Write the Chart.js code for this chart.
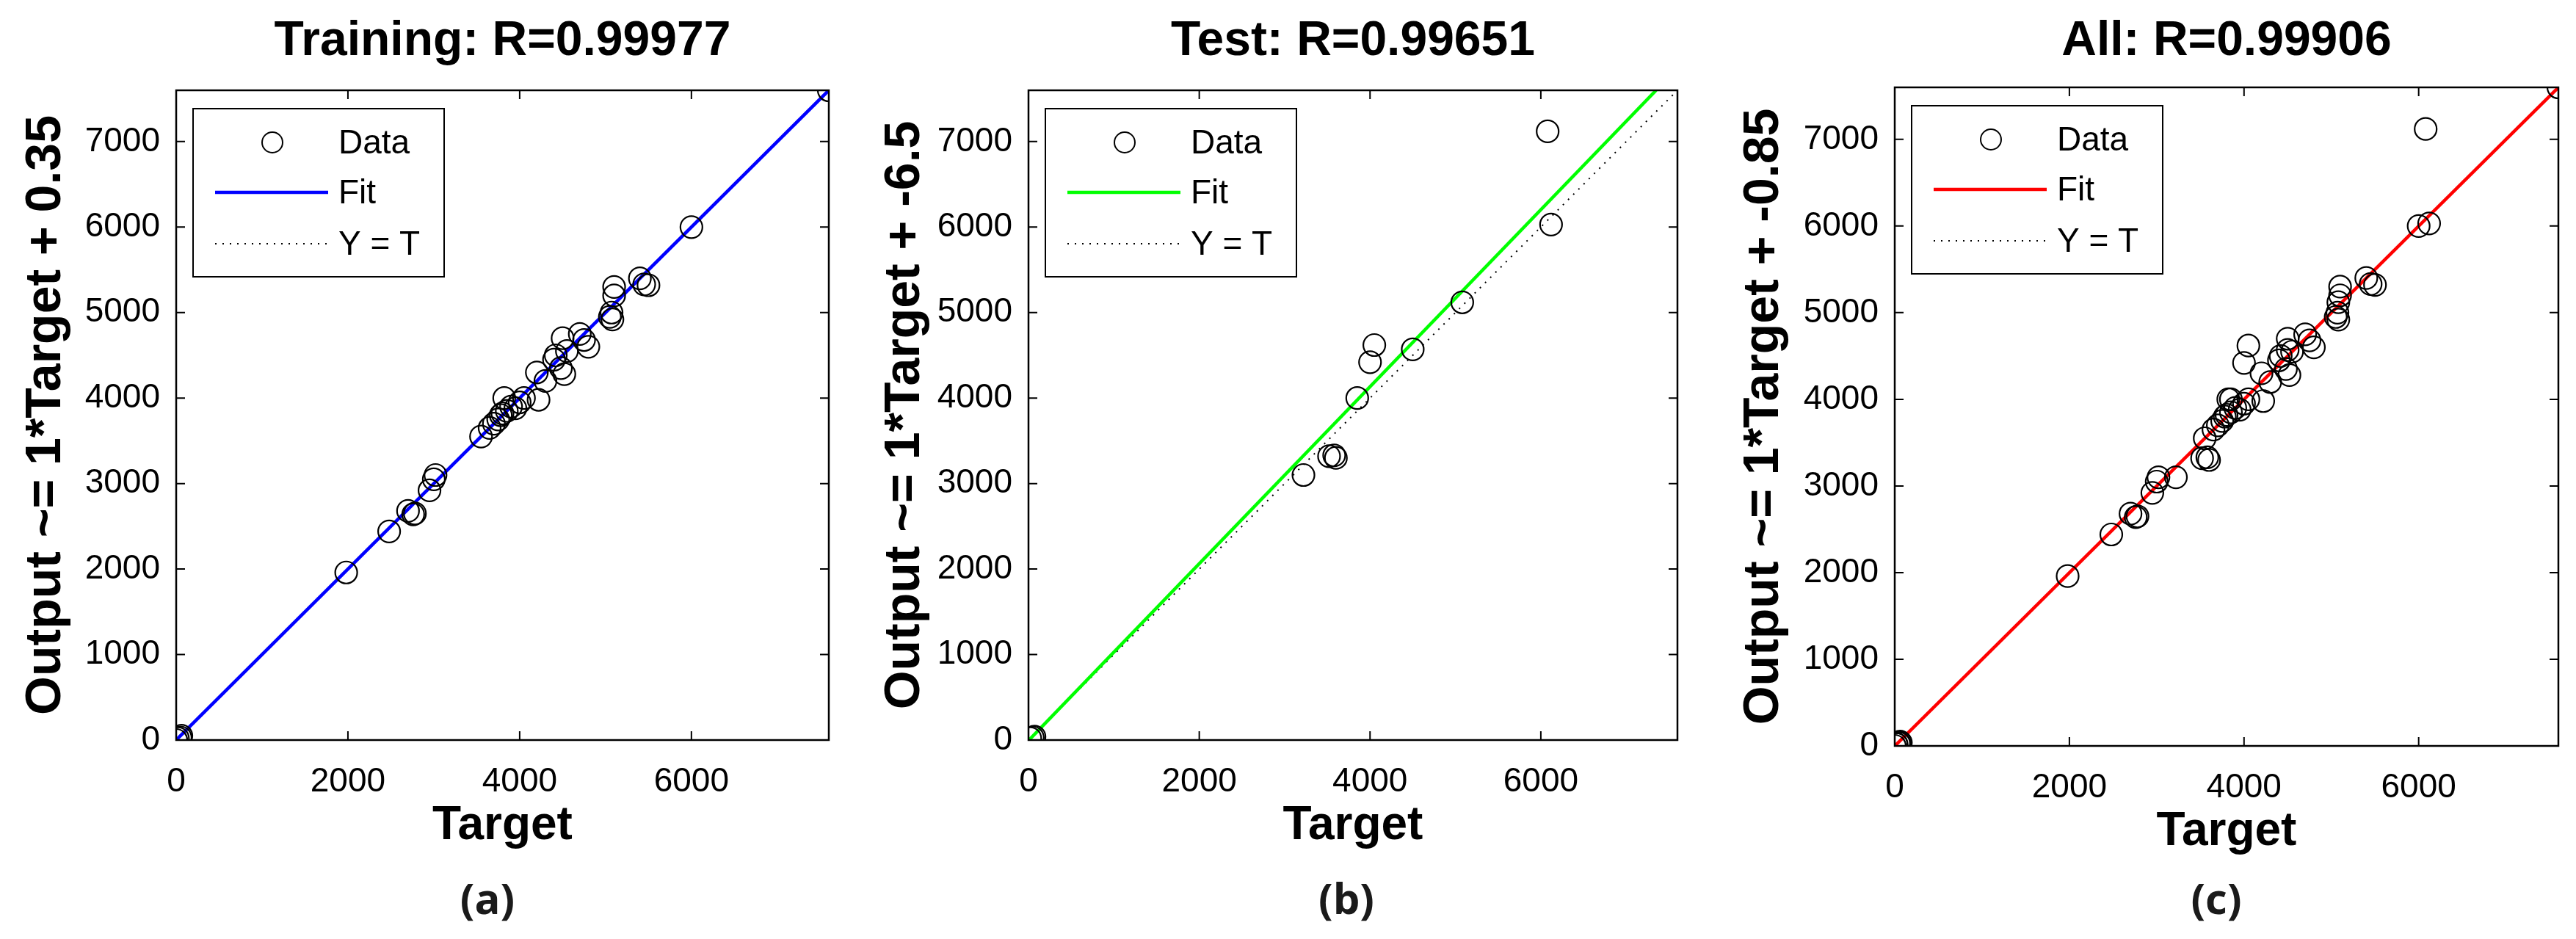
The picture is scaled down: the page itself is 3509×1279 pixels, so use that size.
<!DOCTYPE html>
<html>
<head>
<meta charset="utf-8">
<script src="https://cdn.jsdelivr.net/npm/chart.js@4"></script>
<style>
  body { margin: 0; background: #fff; }
  #wrap { position: relative; width: 3509px; height: 1279px; }
  canvas { position: absolute; top: 0; }
</style>
</head>
<body>
<div id="wrap">
  <canvas id="c0" width="1170" height="1279" style="left:0px"></canvas>
  <canvas id="c1" width="1170" height="1279" style="left:1170px"></canvas>
  <canvas id="c2" width="1169" height="1279" style="left:2340px"></canvas>
</div>
<script>
// ----- data -----
const trainX = [0, 20, 50, 60, 1980, 2480, 2700, 2780, 2760, 2950, 3000, 3020, 3550, 3650, 3700, 3750, 3780, 3800, 3820, 3850, 3900, 3950, 4000, 4050, 4200, 4220, 4300, 4400, 4420, 4480, 4500, 4520, 4550, 4700, 4750, 4800, 5050, 5070, 5080, 5100, 5100, 5400, 5450, 5500, 6000, 7600];
const trainY = [0, 20, 30, 50, 1960, 2440, 2680, 2650, 2640, 2920, 3050, 3100, 3550, 3650, 3700, 3750, 3800, 3820, 4000, 3850, 3900, 3880, 3950, 4000, 4300, 3980, 4200, 4450, 4500, 4350, 4700, 4280, 4550, 4750, 4680, 4600, 4950, 5000, 4920, 5300, 5200, 5400, 5330, 5320, 6000, 7600];

const testX = [20, 50, 70, 3220, 3520, 3580, 3600, 3850, 4000, 4050, 4500, 5080, 6080, 6120];
const testY = [20, 30, 40, 3100, 3320, 3330, 3300, 4000, 4420, 4620, 4570, 5120, 7120, 6030];

const titles = ['Training: R=0.99977', 'Test: R=0.99651', 'All: R=0.99906'];
const yTitles = ['Output ~= 1*Target + 0.35', 'Output ~= 1*Target + -6.5', 'Output ~= 1*Target + -0.85'];
const captions = ['(a)', '(b)', '(c)'];
const fitColors = ['#0000ff', '#00ff00', '#ff0000'];
// fit line end points [x0, y0, x1, y1]
const fitLines = [[0, 0.35, 7600, 7600.35], [0, -6.5, 7350, 7600], [0, -0.85, 7600, 7599]];
const identity = [0, 0, 7600, 7600];
const xTicks = [0, 2000, 4000, 6000];
const yTicks = [0, 1000, 2000, 3000, 4000, 5000, 6000, 7000];
const axisMax = 7600;

// chart area per panel: [left, right, top, bottom] in canvas px
const areas = [[240, 1129, 123, 1008], [231, 1115, 123, 1008], [241, 1145, 119, 1016]];
const captionX = [664, 664, 679];

const FONT = '"Liberation Sans", Arial, sans-serif';

function toPoints(xs, ys) {
  return xs.map((x, i) => ({ x: x, y: ys[i] }));
}

// box, inward ticks, titles, legend and caption
const decorPlugin = {
  id: 'decor',
  afterDraw(chart, args, opts) {
    const ctx = chart.ctx;
    const a = chart.chartArea;
    const xs = chart.scales.x, ys = chart.scales.y;
    ctx.save();
    ctx.strokeStyle = '#000';
    ctx.lineWidth = 2.5;
    ctx.strokeRect(a.left, a.top, a.right - a.left, a.bottom - a.top);
    ctx.lineWidth = 2;
    ctx.beginPath();
    xTicks.forEach(v => {
      const p = xs.getPixelForValue(v);
      ctx.moveTo(p, a.bottom); ctx.lineTo(p, a.bottom - 12);
      ctx.moveTo(p, a.top); ctx.lineTo(p, a.top + 12);
    });
    yTicks.forEach(v => {
      const p = ys.getPixelForValue(v);
      ctx.moveTo(a.left, p); ctx.lineTo(a.left + 12, p);
      ctx.moveTo(a.right, p); ctx.lineTo(a.right - 12, p);
    });
    ctx.stroke();

    // title
    ctx.fillStyle = '#000';
    ctx.font = 'bold 66px ' + FONT;
    ctx.textAlign = 'center';
    ctx.textBaseline = 'middle';
    ctx.fillText(opts.title, (a.left + a.right) / 2, 57);

    // caption
    ctx.font = 'bold 58px "Open Sans", ' + FONT;
    ctx.fillStyle = '#1a1a1a';
    ctx.fillText(opts.caption, opts.captionX, 1228);

    // legend
    const bx = a.left + 23, by = a.top + 25, bw = 342, bh = 229;
    ctx.fillStyle = '#fff';
    ctx.fillRect(bx, by, bw, bh);
    ctx.strokeStyle = '#000';
    ctx.lineWidth = 2;
    ctx.strokeRect(bx, by, bw, bh);
    ctx.font = '46px ' + FONT;
    ctx.textAlign = 'left';
    ctx.fillStyle = '#000';
    ctx.beginPath();
    ctx.arc(bx + 108, by + 46, 14, 0, Math.PI * 2);
    ctx.stroke();
    ctx.fillText('Data', bx + 198, by + 48);
    ctx.strokeStyle = opts.color;
    ctx.lineWidth = 4.5;
    ctx.beginPath();
    ctx.moveTo(bx + 30, by + 114); ctx.lineTo(bx + 184, by + 114);
    ctx.stroke();
    ctx.fillText('Fit', bx + 198, by + 116);
    ctx.strokeStyle = '#000';
    ctx.lineWidth = 2;
    ctx.setLineDash([2, 8]);
    ctx.beginPath();
    ctx.moveTo(bx + 30, by + 184); ctx.lineTo(bx + 184, by + 184);
    ctx.stroke();
    ctx.setLineDash([]);
    ctx.fillText('Y = T', bx + 198, by + 186);
    ctx.restore();
  }
};

function makeChart(i, pointsX, pointsY) {
  const ar = areas[i];
  const canvas = document.getElementById('c' + i);
  const f = fitLines[i];
  new Chart(canvas, {
    type: 'scatter',
    data: {
      datasets: [
        {
          type: 'line',
          data: [{ x: identity[0], y: identity[1] }, { x: identity[2], y: identity[3] }],
          borderColor: '#000', borderWidth: 2, borderDash: [2, 8],
          pointRadius: 0, order: 3
        },
        {
          type: 'line',
          data: [{ x: f[0], y: f[1] }, { x: f[2], y: f[3] }],
          borderColor: fitColors[i], borderWidth: 4.5,
          pointRadius: 0, order: 2
        },
        {
          data: toPoints(pointsX, pointsY),
          pointRadius: 15, pointBorderWidth: 2.2,
          pointBorderColor: '#000', pointBackgroundColor: 'rgba(0,0,0,0)',
          order: 1
        }
      ]
    },
    options: {
      responsive: false,
      animation: false,
      devicePixelRatio: 1,
      layout: { padding: { left: 0, top: ar[2], right: canvas.width - ar[1], bottom: 1279 - ar[3] - 160 } },
      plugins: {
        legend: { display: false },
        tooltip: { enabled: false },
        decor: { title: titles[i], caption: captions[i], captionX: captionX[i], color: fitColors[i] }
      },
      scales: {
        x: {
          type: 'linear', min: 0, max: axisMax,
          afterBuildTicks: s => { s.ticks = xTicks.map(v => ({ value: v })); },
          afterFit: s => { s.height = 160; },
          grid: { display: false }, border: { display: false },
          ticks: { color: '#000', font: { size: 46, family: FONT }, padding: 22, maxRotation: 0, callback: v => String(v) },
          title: { display: true, text: 'Target', color: '#000', font: { size: 64, weight: 'bold', family: FONT }, padding: { top: 0 } }
        },
        y: {
          type: 'linear', min: 0, max: axisMax,
          afterBuildTicks: s => { s.ticks = yTicks.map(v => ({ value: v })); },
          afterFit: s => { s.width = ar[0]; },
          grid: { display: false }, border: { display: false },
          ticks: { color: '#000', font: { size: 46, family: FONT }, padding: 14, callback: v => String(v) },
          title: { display: true, text: yTitles[i], color: '#000', font: { size: 68, weight: 'bold', family: FONT }, padding: { top: 22, bottom: 0 } }
        }
      }
    },
    plugins: [decorPlugin]
  });
}

makeChart(0, trainX, trainY);
makeChart(1, testX, testY);
makeChart(2, trainX.concat(testX), trainY.concat(testY));
</script>
</body>
</html>
